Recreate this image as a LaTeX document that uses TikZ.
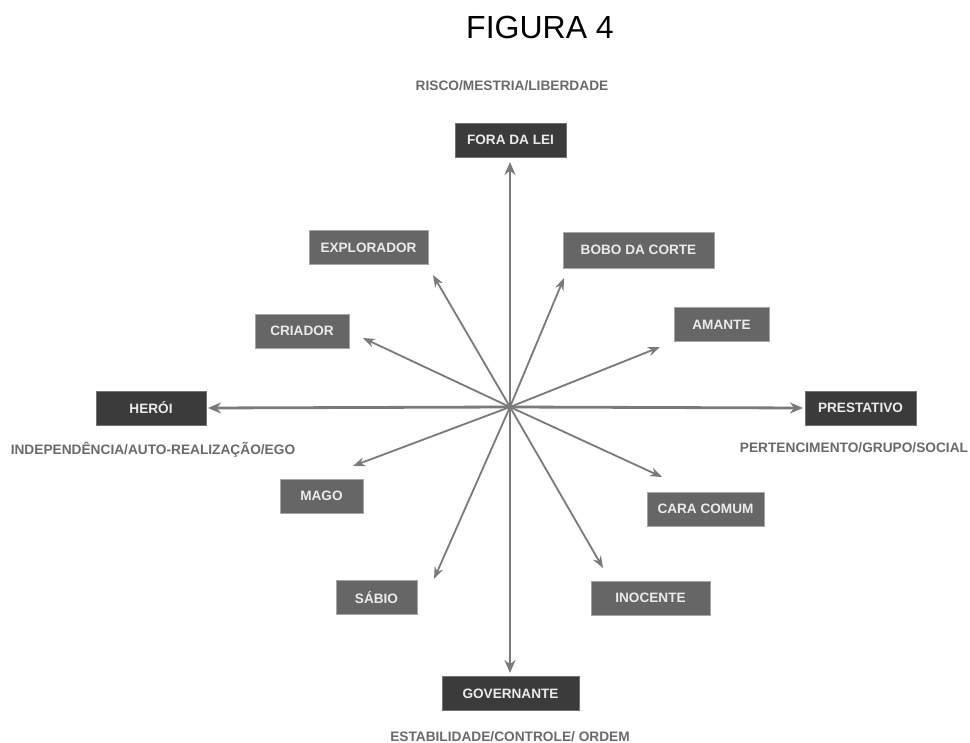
\documentclass[tikz,border=0pt]{standalone}
\usepackage{fontspec}
\setmainfont{Liberation Sans}
\usetikzlibrary{arrows.meta}
\definecolor{darkbox}{HTML}{3B3B3B}
\definecolor{midbox}{HTML}{666666}
\definecolor{boxtext}{HTML}{EBEBEB}
\definecolor{linegray}{HTML}{7A7A7A}
\definecolor{labgray}{HTML}{6A6A6A}
\tikzset{
  darkbx/.style={fill=darkbox, draw=black!55, line width=0.6pt, text=boxtext, font=\bfseries\fontsize{13.6}{14}\selectfont, inner sep=0pt, minimum height=34pt},
  midbx/.style={fill=midbox, draw=black!35, line width=0.6pt, text=boxtext, font=\bfseries\fontsize{13.6}{14}\selectfont, inner sep=0pt, minimum height=34pt},
  axislbl/.style={text=labgray, font=\bfseries\fontsize{13.7}{14}\selectfont, inner sep=0pt},
  mainarr/.style={draw=linegray, line width=2.8pt, -{Stealth[length=13pt,width=11pt]}},
  diagarr/.style={draw=linegray, line width=1.8pt, -{Stealth[length=12pt,width=9pt]}}
}
\begin{document}
\begin{tikzpicture}[x=1pt,y=-1pt]
\useasboundingbox (0,0) rectangle (970,743);
\fill[white] (0,0) rectangle (970,743);
% title
\node (title) at (540,27) {\fontsize{32}{34}\selectfont FIGURA 4};
% axis labels
\node[axislbl] (risco) at (512,86) {RISCO/MESTRIA/LIBERDADE};
\node[axislbl] (indep) at (153,450) {INDEPENDÊNCIA/AUTO-REALIZAÇÃO/EGO};
\node[axislbl] (pert) at (854,448) {PERTENCIMENTO/GRUPO/SOCIAL};
\node[axislbl] (estab) at (510,737) {ESTABILIDADE/CONTROLE/ ORDEM};
% boxes
\node[darkbx, minimum width=111pt] (fora) at (510.5,140) {FORA DA LEI};
\node[darkbx, minimum width=110pt] (heroi) at (151,408) {HERÓI};
\node[darkbx, minimum width=111pt] (prest) at (860.5,408) {PRESTATIVO};
\node[darkbx, minimum width=137pt] (gov) at (510.5,693.5) {GOVERNANTE};
\node[midbx, minimum width=119pt] (expl) at (368.5,247.5) {EXPLORADOR};
\node[midbx, minimum width=151pt, minimum height=36pt] (bobo) at (638.5,250) {BOBO DA CORTE};
\node[midbx, minimum width=94pt] (criador) at (302,331) {CRIADOR};
\node[midbx, minimum width=95pt] (amante) at (721.5,324.5) {AMANTE};
\node[midbx, minimum width=83pt] (mago) at (321.5,496) {MAGO};
\node[midbx, minimum width=81pt] (sabio) at (376.5,597.5) {SÁBIO};
\node[midbx, minimum width=117pt] (cara) at (705.5,509) {CARA COMUM};
\node[midbx, minimum width=119pt] (inoc) at (650.5,598) {INOCENTE};
% arrow geometry
\coordinate (c) at (510,407);
\coordinate (tup) at (510,162);
\coordinate (tdown) at (510,673);
\coordinate (tleft) at (208,408);
\coordinate (tright) at (803,408);
\coordinate (texpl) at (433,275);
\coordinate (tbobo) at (564,278);
\coordinate (tcri) at (363,338);
\coordinate (tam) at (660,347);
\coordinate (tmago) at (353,466);
\coordinate (tcara) at (662,477);
\coordinate (tsab) at (434,579);
\coordinate (tino) at (603,568);
% diagonal arrows
\draw[diagarr] (c) -- (texpl);
\draw[diagarr] (c) -- (tbobo);
\draw[diagarr] (c) -- (tcri);
\draw[diagarr] (c) -- (tam);
\draw[diagarr] (c) -- (tmago);
\draw[diagarr] (c) -- (tcara);
\draw[diagarr] (c) -- (tsab);
\draw[diagarr] (c) -- (tino);
% main axes
\draw[mainarr] (c) -- (tup);
\draw[mainarr] (c) -- (tdown);
\draw[mainarr] (c) -- (tleft);
\draw[mainarr] (c) -- (tright);
\end{tikzpicture}
\end{document}
